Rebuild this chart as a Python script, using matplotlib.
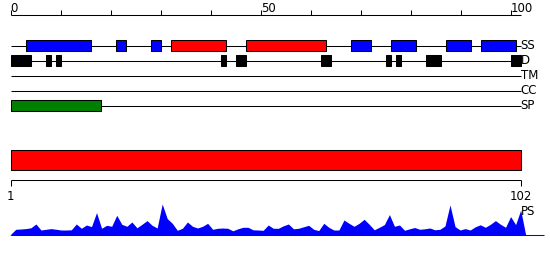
import matplotlib
matplotlib.use("Agg")
import matplotlib.pyplot as plt
import numpy as np

# ---------------- data ----------------
seq_len = 102
track_names = ["SS", "D", "TM", "CC", "SP"]
ss_helix = [(32, 43), (47, 63)]
ss_strand = [(3, 16), (21, 23), (28, 30), (68, 72), (76, 81), (87, 92), (94, 101)]
disorder = [(0, 4), (7, 8), (9, 10), (42, 43), (45, 47), (62, 64),
            (75, 76), (77, 78), (83, 86), (100, 102)]
transmembrane = []
coiled_coil = []
signal_peptide = [(0, 18)]
ruler_ticks = [0, 10, 20, 30, 40, 50, 60, 70, 80, 90, 100]
ruler_labels = {0: "0", 50: "50", 100: "100"}
domain = [(1, 102)]
bottom_ticks = [1, 102]
ps_values = [
    1, 6, 6.3, 6.7, 7.5, 11.3, 5.3, 6, 6.7, 6,
    5.3, 5.3, 5.5, 11.3, 7, 10.3, 8.7, 22.7, 7, 10,
    9, 20, 11, 9, 13.3, 7.5, 11, 14.7, 10, 7.3,
    31.3, 16.7, 12, 5, 7, 13.3, 9, 7.3, 9, 12,
    6, 7, 7.3, 7, 4.5, 6.5, 8, 8, 5.5, 5.3,
    5, 10.3, 7, 7, 9.5, 11.3, 6.5, 7, 8.5, 10,
    6, 4.7, 12, 8, 5.3, 5.3, 15.3, 12, 9, 12,
    16, 11, 5.5, 8, 10.7, 20.7, 9, 10.3, 5, 6.5,
    7.8, 6, 6.5, 7.3, 5.5, 6, 9.3, 30.3, 8.7, 5.3,
    6.7, 5.3, 8.5, 10.5, 8, 11, 14.7, 11, 8, 18.7,
    10.7, 25.3,
]

# ---------------- figure ----------------
W, H = 550, 260
fig = plt.figure(figsize=(W / 100, H / 100), dpi=100)
FS = 8.5
LW = 0.75

# ---- top tracks (x in 0..100 scale, y in pixel rows) ----
x0_px, top_scale = 10.7, 5.0
axt = fig.add_axes([0, (H - 125) / H, 1, 125 / H])
axt.set_xlim(-x0_px / top_scale, (W - x0_px) / top_scale)
axt.set_ylim(125, 0)
axt.axis("off")

ruler_y = 15
axt.hlines(ruler_y, 0, seq_len, color="black", lw=LW)
axt.vlines(ruler_ticks, ruler_y - 5, ruler_y, color="black", lw=LW)
for t, lab in ruler_labels.items():
    axt.text(t, ruler_y - 3.5, lab, ha="left", va="baseline", fontsize=FS)

row_y = {name: 45.5 + 15 * k for k, name in enumerate(track_names)}
box_h = 11
for name in track_names:
    y = row_y[name]
    axt.hlines(y, 0, seq_len, color="black", lw=LW, zorder=1)
    axt.text(seq_len, y, name, ha="left", va="center", fontsize=FS)

def draw_boxes(segs, y, color):
    if not segs:
        return
    lefts = [s for s, e in segs]
    widths = [e - s for s, e in segs]
    axt.barh([y] * len(segs), widths, left=lefts, height=box_h,
             color=color, edgecolor="black", linewidth=LW, zorder=2)

draw_boxes(ss_strand, row_y["SS"], "#0000ff")
draw_boxes(ss_helix, row_y["SS"], "#ff0000")
draw_boxes(disorder, row_y["D"], "black")
draw_boxes(transmembrane, row_y["TM"], "#888888")
draw_boxes(coiled_coil, row_y["CC"], "#888888")
draw_boxes(signal_peptide, row_y["SP"], "#008000")

# ---- bottom: domain bar + residue ruler ----
bot_scale = (520.7 - x0_px) / (seq_len - 1)
xl = (1 - x0_px / bot_scale, 1 + (W - x0_px) / bot_scale)
axb = fig.add_axes([0, (H - 200) / H, 1, 75 / H])
axb.set_xlim(*xl)
axb.set_ylim(200, 125)
axb.axis("off")
for s, e in domain:
    axb.barh(160.3, e - s, left=s, height=20, color="#ff0000",
             edgecolor="black", linewidth=LW)
axb.hlines(180.3, bottom_ticks[0], bottom_ticks[-1], color="black", lw=LW)
axb.vlines(bottom_ticks, 180.3, 185.5, color="black", lw=LW)
for t in bottom_ticks:
    axb.text(t, 199.5, str(t), ha="center", va="baseline", fontsize=FS)

# ---- PS profile ----
axp = fig.add_axes([0, 0, 1, 60 / H])
axp.set_xlim(*xl)
axp.set_ylim(235.3 - 260, 235.3 - 200)
axp.axis("off")
res = np.arange(1, seq_len + 1)
px = np.concatenate([[res[0] - 0.15], res, [res[-1] + 1]])
py = np.concatenate([[0], ps_values, [0]])
axp.fill_between(px, py, 0, color="#0000ff", lw=0)
axp.hlines(0, res[0], 106.6, color="#0000ff", lw=LW)
axp.text(seq_len, 235.3 - 215, "PS", ha="left", va="baseline", fontsize=FS)

fig.savefig("out.png", dpi=100)
